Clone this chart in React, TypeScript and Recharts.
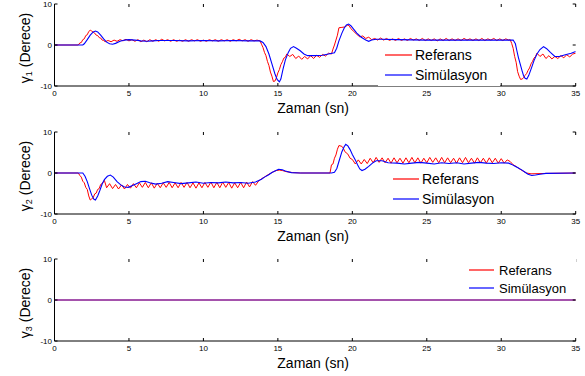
import { LineChart, Line, XAxis, YAxis, Legend, Label } from 'recharts';

const FONT = "'Liberation Sans', Arial, Helvetica, sans-serif";

// axis ticks (same on all three panels)
const xTicks = [0, 5, 10, 15, 20, 25, 30, 35];
const yTicks = [-10, 0, 10];

// gamma 1 - reference (red, with sampling ripple)
const ref1: [number, number][] = [
  [0, 0], [1.6, 0], [1.7, 0.5], [1.8, 0.6], [1.9, 1.3], [2.0, 1.5], [2.1, 2.3], [2.2, 2.5], [2.3, 3.3], [2.4, 3.6],
  [2.5, 3.4], [2.6, 3.1], [2.7, 2.9], [2.8, 2.4], [2.9, 2.3], [3.0, 1.8], [3.1, 1.7], [3.2, 1.2], [3.3, 1.1],
  [3.4, 0.8], [3.6, 1.1], [3.8, 0.8], [4.0, 1.2], [4.2, 0.9], [4.4, 1.3], [4.6, 1.0], [4.8, 1.4], [5.0, 1.0], [5.2, 1.3],
  [5.4, 0.9], [5.6, 1.3], [5.8, 0.8], [6.0, 1.2], [6.2, 0.8], [6.4, 1.3], [6.6, 0.9], [6.8, 1.3], [7.0, 0.9], [7.2, 1.4],
  [7.4, 1.0], [7.6, 1.3], [7.8, 0.9], [8.0, 1.3], [8.2, 0.9], [8.4, 1.2], [8.6, 0.9], [8.8, 1.3], [9.0, 0.9], [9.2, 1.3],
  [9.4, 1.0], [9.6, 1.3], [9.8, 0.9], [10.0, 1.2], [10.2, 0.9], [10.4, 1.3], [10.6, 1.0], [10.8, 1.3], [11.0, 0.9],
  [11.2, 1.3], [11.4, 1.0], [11.6, 1.3], [11.8, 0.9], [12.0, 1.3], [12.2, 1.0], [12.4, 1.4], [12.6, 1.0], [12.8, 1.3],
  [13.0, 0.9], [13.2, 1.3], [13.4, 1.0], [13.6, 1.2], [13.8, 1.0], [13.9, 0.2], [14.0, -0.6], [14.1, -1.8], [14.2, -2.6],
  [14.3, -4.0], [14.4, -5.0], [14.5, -6.6], [14.6, -7.6], [14.7, -8.9], [14.8, -8.8], [14.9, -8.0], [15.0, -6.8],
  [15.1, -6.0], [15.2, -4.8], [15.3, -4.1], [15.4, -3.2], [15.5, -3.0], [15.6, -2.2], [15.8, -2.8], [16.0, -2.3],
  [16.2, -3.3], [16.4, -2.7], [16.6, -3.5], [16.8, -2.8], [17.0, -3.4], [17.2, -2.6], [17.4, -3.3], [17.6, -2.5],
  [17.8, -3.0], [18.0, -2.3], [18.2, -2.7], [18.4, -2.0], [18.6, -2.2], [18.7, -1.0], [18.8, 0.0], [18.9, 1.2],
  [19.0, 2.4], [19.1, 4.2], [19.3, 4.3], [19.5, 4.4], [19.7, 4.9], [19.8, 4.6], [19.9, 4.0], [20.1, 3.3], [20.3, 2.6],
  [20.5, 2.0], [20.7, 2.2], [20.9, 1.6], [21.1, 1.9], [21.3, 1.3], [21.5, 1.6], [21.7, 1.2], [21.9, 1.7], [22.1, 1.2],
  [22.3, 1.6], [22.5, 1.1], [22.7, 1.5], [22.9, 1.1], [23.1, 1.6], [23.3, 1.1], [23.5, 1.5], [23.7, 1.1], [23.9, 1.6],
  [24.1, 1.2], [24.3, 1.5], [24.5, 1.1], [24.7, 1.6], [24.9, 1.1], [25.1, 1.5], [25.3, 1.1], [25.5, 1.5], [25.7, 1.0],
  [25.9, 1.5], [26.1, 1.1], [26.3, 1.6], [26.5, 1.1], [26.7, 1.5], [26.9, 1.1], [27.1, 1.5], [27.3, 1.1], [27.5, 1.6],
  [27.7, 1.2], [27.9, 1.5], [28.1, 1.1], [28.3, 1.5], [28.5, 1.1], [28.7, 1.6], [28.9, 1.1], [29.1, 1.5], [29.3, 1.2],
  [29.5, 1.6], [29.7, 1.1], [29.9, 1.5], [30.1, 1.1], [30.3, 1.5], [30.5, 1.2], [30.6, 1.3], [30.7, 0.4], [30.8, -0.8],
  [30.9, -2.8], [31.0, -4.2], [31.1, -6.5], [31.2, -7.6], [31.3, -8.4], [31.4, -8.3], [31.5, -8.0], [31.6, -7.4],
  [31.7, -7.0], [31.8, -6.2], [31.9, -5.6], [32.0, -4.6], [32.1, -4.0], [32.2, -3.2], [32.3, -2.8], [32.4, -2.0],
  [32.6, -2.8], [32.8, -2.2], [33.0, -3.3], [33.2, -2.6], [33.4, -3.4], [33.6, -2.8], [33.8, -3.3], [34.0, -2.6],
  [34.2, -3.1], [34.4, -2.4], [34.6, -2.9], [34.8, -2.2], [35.0, -2.0],
];

// gamma 1 - simulation (blue)
const sim1: [number, number][] = [
  [0, 0], [1.9, 0], [2.0, 0.3], [2.2, 1.3], [2.4, 2.4], [2.6, 3.2], [2.75, 3.4], [2.9, 3.2], [3.1, 2.4], [3.3, 1.5],
  [3.5, 0.7], [3.7, 0.3], [3.9, 0.2], [4.1, 0.4], [4.4, 0.9], [4.7, 1.2], [5.0, 1.3], [5.4, 1.2], [5.8, 1.0], [6.2, 0.9],
  [6.6, 1.0], [7.0, 1.1], [8, 1.1], [9, 1.0], [10, 1.1], [11, 1.0], [12, 1.1], [13, 1.0], [13.8, 1.0], [14.0, 0.6],
  [14.2, -0.4], [14.4, -2.2], [14.6, -4.6], [14.8, -7.0], [14.95, -8.4], [15.1, -9.0], [15.2, -8.3], [15.35, -5.8],
  [15.5, -3.7], [15.7, -1.8], [15.85, -0.8], [16.05, -0.4], [16.25, -0.8], [16.5, -1.4], [16.75, -2.2], [17.0, -2.6],
  [17.5, -2.6], [18.0, -2.5], [18.4, -2.2], [18.8, -1.9], [18.95, -0.8], [19.1, 1.0], [19.3, 2.9], [19.45, 4.1],
  [19.6, 4.9], [19.75, 5.1], [19.9, 4.7], [20.1, 3.8], [20.3, 2.9], [20.6, 1.9], [20.9, 1.2], [21.1, 0.9], [21.3, 1.2],
  [21.6, 1.4], [22, 1.4], [23, 1.3], [25, 1.2], [27, 1.2], [29, 1.2], [30.8, 1.2], [30.95, 0.3], [31.05, -1.4],
  [31.15, -3.0], [31.27, -4.6], [31.4, -6.3], [31.5, -7.5], [31.6, -8.1], [31.72, -8.3], [31.85, -7.4], [32.05, -5.4],
  [32.2, -3.8], [32.4, -2.2], [32.6, -1.1], [32.84, -0.4], [33.05, -0.9], [33.3, -1.8], [33.6, -2.8], [33.9, -2.8],
  [34.3, -2.4], [34.7, -2.0], [35, -1.6],
];

// gamma 2 - reference
const ref2: [number, number][] = [
  [0, 0], [1.6, 0], [1.7, -0.6], [1.8, -1.0], [1.9, -2.0], [2.0, -2.4], [2.1, -3.5], [2.2, -4.0], [2.3, -5.6],
  [2.4, -6.6], [2.5, -6.3], [2.6, -6.0], [2.7, -5.1], [2.8, -4.9], [2.9, -4.0], [3.0, -3.8], [3.1, -2.8], [3.2, -2.6],
  [3.35, -1.8], [3.5, -3.6], [3.7, -2.6], [3.9, -3.8], [4.1, -2.8], [4.3, -3.9], [4.5, -2.9], [4.7, -3.9], [4.9, -2.8],
  [5.1, -3.7], [5.3, -2.6], [5.5, -3.6], [5.7, -2.4], [5.9, -3.5], [6.1, -2.3], [6.3, -3.6], [6.5, -2.4], [6.7, -3.7],
  [6.9, -2.5], [7.1, -3.6], [7.3, -2.4], [7.5, -3.5], [7.7, -2.3], [7.9, -3.6], [8.1, -2.4], [8.3, -3.6], [8.5, -2.3],
  [8.7, -3.5], [8.9, -2.3], [9.1, -3.6], [9.3, -2.4], [9.5, -3.7], [9.7, -2.4], [9.9, -3.6], [10.1, -2.3], [10.3, -3.5],
  [10.5, -2.2], [10.7, -3.6], [10.9, -2.3], [11.1, -3.6], [11.3, -2.2], [11.5, -3.5], [11.7, -2.3], [11.9, -3.7],
  [12.1, -2.4], [12.3, -3.6], [12.5, -2.3], [12.7, -3.6], [12.9, -2.2], [13.1, -3.4], [13.3, -2.1], [13.5, -3.0],
  [13.7, -2.0], [13.9, -1.4], [14.1, -1.0], [14.3, -0.5], [14.5, -0.1], [14.7, 0.3], [14.9, 0.6], [15.1, 0.7],
  [15.3, 0.6], [15.6, 0.3], [16.0, 0.1], [16.5, 0], [18.5, 0], [18.55, 1.0], [18.6, 2.0], [18.7, 2.2], [18.8, 3.6],
  [18.9, 4.4], [19.0, 5.8], [19.1, 6.7], [19.3, 6.5], [19.4, 6.0], [19.5, 5.2], [19.7, 4.6], [19.85, 3.6], [20.0, 3.3],
  [20.2, 2.2], [20.4, 3.2], [20.6, 2.2], [20.8, 3.3], [21.0, 2.3], [21.2, 3.6], [21.4, 2.5], [21.6, 3.8], [21.8, 2.6],
  [22.0, 3.7], [22.2, 2.5], [22.4, 3.6], [22.6, 2.4], [22.8, 3.7], [23.0, 2.5], [23.2, 3.6], [23.4, 2.4], [23.6, 3.7],
  [23.8, 2.5], [24.0, 3.8], [24.2, 2.5], [24.4, 3.7], [24.6, 2.4], [24.8, 3.6], [25.0, 2.5], [25.2, 3.8], [25.4, 2.6],
  [25.6, 3.7], [25.8, 2.5], [26.0, 3.8], [26.2, 2.5], [26.4, 3.7], [26.6, 2.5], [26.8, 3.6], [27.0, 2.4], [27.2, 3.7],
  [27.4, 2.5], [27.6, 3.8], [27.8, 2.5], [28.0, 3.6], [28.2, 2.4], [28.4, 3.7], [28.6, 2.5], [28.8, 3.6], [29.0, 2.4],
  [29.2, 3.7], [29.4, 2.5], [29.6, 3.6], [29.8, 2.4], [30.0, 3.5], [30.2, 2.4], [30.4, 3.2], [30.6, 2.8], [30.8, 2.0],
  [31.0, 1.6], [31.27, 0.9], [31.5, 0.4], [31.7, 0], [32, -0.2], [33, -0.1], [35, 0],
];

// gamma 2 - simulation
const sim2: [number, number][] = [
  [0, 0], [1.9, 0], [2.05, -0.8], [2.2, -2.1], [2.35, -3.8], [2.5, -5.4], [2.65, -6.4], [2.75, -6.6], [2.9, -5.6],
  [3.05, -4.2], [3.2, -2.7], [3.35, -1.6], [3.55, -0.8], [3.75, -0.5], [3.95, -1.0], [4.2, -2.1], [4.45, -2.9],
  [4.7, -3.4], [4.95, -3.5], [5.2, -3.1], [5.5, -2.6], [5.8, -2.1], [6.1, -2.0], [6.4, -2.4], [6.8, -2.7], [7.2, -2.5],
  [7.6, -2.1], [8.0, -2.3], [8.5, -2.6], [9, -2.4], [9.5, -2.2], [10, -2.5], [10.5, -2.3], [11, -2.4], [11.5, -2.2],
  [12, -2.4], [12.5, -2.3], [13, -2.5], [13.5, -2.2], [13.9, -1.5], [14.1, -1.0], [14.36, -0.5], [14.6, 0.1],
  [14.8, 0.5], [15.05, 0.9], [15.3, 0.8], [15.5, 0.5], [15.9, 0.1], [16.5, 0], [18.6, 0], [18.8, 0.2], [18.96, 1.1],
  [19.1, 2.8], [19.3, 5.2], [19.45, 6.4], [19.56, 7.0], [19.7, 6.6], [19.85, 5.7], [20.0, 4.5], [20.2, 3.2],
  [20.35, 2.0], [20.5, 1.0], [20.65, 0.6], [20.85, 0.9], [21.1, 1.6], [21.35, 2.4], [21.6, 3.0], [22.0, 3.0],
  [22.4, 2.5], [23, 2.4], [23.5, 2.2], [24, 2.4], [24.5, 2.6], [25, 2.4], [25.5, 2.2], [26, 2.5], [26.5, 2.3],
  [27, 2.5], [27.5, 2.2], [28, 2.4], [28.5, 2.6], [29, 2.4], [29.5, 2.3], [30, 2.5], [30.5, 2.4], [30.7, 2.1],
  [30.9, 1.7], [31.15, 1.2], [31.4, 0.7], [31.6, 0.2], [31.8, -0.3], [32.05, -0.6], [32.3, -0.5], [32.6, -0.3],
  [33, -0.1], [35, 0],
];

// gamma 3 - both stay at zero
const ref3: [number, number][] = [[0, 0], [35, 0]];
const sim3: [number, number][] = [[0, 0], [35, 0]];

const toRows = (pts: [number, number][]) => pts.map(([t, v]) => ({ t, v }));

// panel geometry
const W = 585;
const H = 125;
const M_TOP = 4;
const M_RIGHT = 9.3;
const Y_AXIS_W = 54.5;
const X_AXIS_H = 39;
const PLOT_W = W - Y_AXIS_W - M_RIGHT;
const PLOT_H = H - M_TOP - X_AXIS_H;
const TICK_LEN = 3;
const X_TICK_GAP = 4;
const Y_TICK_GAP = 2.5;

interface LegendBox {
  left: number;
  top: number;
  w: number;
  h: number;
  rows: number[];   // row centers inside the box
  lineX: [number, number];
  textX: number;
  fontSize: number;
}

interface PanelProps {
  n: number;
  top: number;
  refPts: [number, number][];
  simPts: [number, number][];
  simOpacity?: number;
  legend: LegendBox;
}

// x tick: label below, inward marks on the bottom and top frame (MATLAB style)
const XTick = (p: any) => {
  const bottom = p.y - X_TICK_GAP;
  const topY = bottom - PLOT_H;
  return (
    <g>
      <line x1={p.x} x2={p.x} y1={bottom} y2={bottom - TICK_LEN} stroke="#000" />
      <line x1={p.x} x2={p.x} y1={topY} y2={topY + TICK_LEN} stroke="#000" />
      <text x={p.x} y={p.y} dy="0.71em" textAnchor="middle" fontSize={8} fontFamily={FONT} fill="#000">
        {p.payload.value}
      </text>
    </g>
  );
};

// y tick: label on the left, inward marks on the left and right frame
const YTick = (p: any) => {
  const left = p.x + Y_TICK_GAP;
  const right = left + PLOT_W;
  return (
    <g>
      <line x1={left} x2={left + TICK_LEN} y1={p.y} y2={p.y} stroke="#000" />
      <line x1={right} x2={right - TICK_LEN} y1={p.y} y2={p.y} stroke="#000" />
      <text x={p.x} y={p.y} dy="0.355em" textAnchor="end" fontSize={8} fontFamily={FONT} fill="#000">
        {p.payload.value}
      </text>
    </g>
  );
};

function Panel({ n, top, refPts, simPts, simOpacity = 1, legend }: PanelProps) {
  const axisStyle = { stroke: '#000', strokeWidth: 1 };

  const xTitle = (p: any) => {
    const vb = p.viewBox;
    return (
      <text x={vb.x + vb.width / 2 - 2} y={vb.y + 27} textAnchor="middle" fontSize={14} fontFamily={FONT} fill="#000">
        Zaman (sn)
      </text>
    );
  };

  const yTitle = (p: any) => {
    const vb = p.viewBox;
    const cx = 25;
    const cy = vb.y + vb.height / 2 + 3;
    return (
      <text x={cx} y={cy} transform={`rotate(-90 ${cx} ${cy})`} textAnchor="middle" dominantBaseline="central"
        fontSize={14} fontFamily={FONT} fill="#000">
        <tspan>γ</tspan>
        <tspan fontSize={9} dy={4}>{n}</tspan>
        <tspan dy={-4}> (Derece)</tspan>
      </text>
    );
  };

  const legendContent = (props: any) => (
    <div style={{ position: 'relative', width: legend.w, height: legend.h, background: '#fff' }}>
      {(props.payload || []).map((item: any, i: number) => (
        <div key={item.value} style={{ position: 'absolute', left: 0, top: legend.rows[i] - 10, height: 20, width: legend.w }}>
          <svg width={legend.w} height={20} style={{ position: 'absolute', left: 0, top: 0 }}>
            <line x1={legend.lineX[0]} x2={legend.lineX[1]} y1={10} y2={10} stroke={item.color} strokeWidth={1.2} />
            <text x={legend.textX} y={10} dominantBaseline="central" fontSize={legend.fontSize} fontFamily={FONT} fill="#000">
              {item.value}
            </text>
          </svg>
        </div>
      ))}
    </div>
  );

  return (
    <div style={{ position: 'absolute', left: 0, top }}>
      <LineChart width={W} height={H} margin={{ top: M_TOP, right: M_RIGHT, bottom: 0, left: 0 }}>
        <XAxis xAxisId="b" type="number" dataKey="t" domain={[0, 35]} ticks={xTicks} interval={0} allowDataOverflow
          height={X_AXIS_H} tickSize={0} tickMargin={X_TICK_GAP} axisLine={axisStyle} tickLine={false} tick={XTick}>
          <Label content={xTitle} />
        </XAxis>
        <XAxis xAxisId="top" orientation="top" type="number" dataKey="t" domain={[0, 35]} allowDataOverflow
          height={0} mirror tick={false} tickLine={false} axisLine={axisStyle} />
        <YAxis yAxisId="l" type="number" domain={[-10, 10]} ticks={yTicks} interval={0} allowDataOverflow
          width={Y_AXIS_W} tickSize={0} tickMargin={Y_TICK_GAP} axisLine={axisStyle} tickLine={false} tick={YTick}>
          <Label content={yTitle} />
        </YAxis>
        <YAxis yAxisId="r" orientation="right" type="number" domain={[-10, 10]} allowDataOverflow
          width={0} mirror tick={false} tickLine={false} axisLine={axisStyle} />
        <Legend layout="vertical" align="center" verticalAlign="middle" content={legendContent}
          wrapperStyle={{ left: legend.left, top: legend.top, width: legend.w, height: legend.h }} />
        <Line xAxisId="b" yAxisId="l" data={toRows(refPts)} dataKey="v" name="Referans" type="linear"
          stroke="#ff0000" strokeWidth={1} dot={false} isAnimationActive={false} />
        <Line xAxisId="b" yAxisId="l" data={toRows(simPts)} dataKey="v" name="Simülasyon" type="linear"
          stroke="#0000ff" strokeOpacity={simOpacity} strokeWidth={1.1} dot={false} isAnimationActive={false} />
      </LineChart>
    </div>
  );
}

export default function App() {
  return (
    <div style={{ position: 'absolute', left: 0, top: 0, width: W, height: 376, background: '#fff', overflow: 'hidden' }}>
      <Panel n={1} top={0} refPts={ref1} simPts={sim1}
        legend={{ left: 378, top: 44, w: 122, h: 42, rows: [11, 31], lineX: [7, 34], textX: 37, fontSize: 14 }} />
      <Panel n={2} top={127.7} refPts={ref2} simPts={sim2}
        legend={{ left: 386, top: 40, w: 122, h: 42, rows: [11.3, 31.3], lineX: [7, 33], textX: 36, fontSize: 14 }} />
      <Panel n={3} top={255.3} refPts={ref3} simPts={sim3} simOpacity={0.7}
        legend={{ left: 463, top: 1.7, w: 113, h: 40, rows: [13, 31], lineX: [6, 31], textX: 36, fontSize: 13 }} />
    </div>
  );
}
